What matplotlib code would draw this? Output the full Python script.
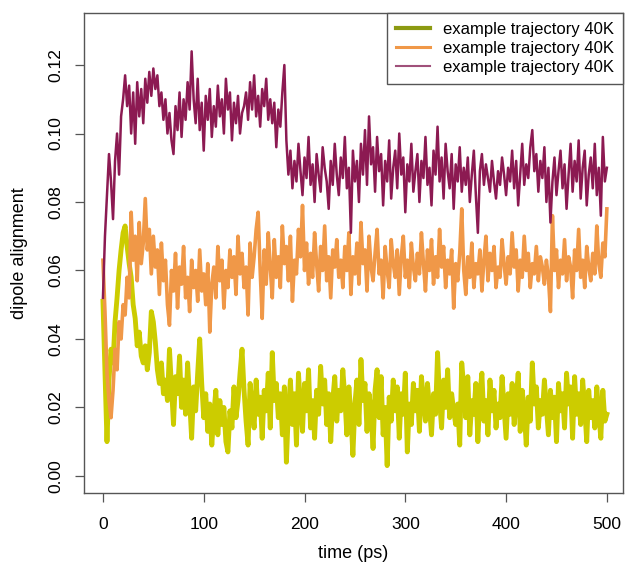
import numpy as np
import matplotlib
matplotlib.use("Agg")
import matplotlib.pyplot as plt
from matplotlib.lines import Line2D

plt.rcParams['font.family'] = ['Liberation Sans', 'DejaVu Sans']

# dipole alignment, in units of 1e-3, one value every 2 ps
yellow = [
    51, 30, 10, 28, 37, 33, 45, 52, 60, 66, 71, 73, 67, 62, 58, 50, 46, 38, 42, 35,
    33, 38, 31, 36, 48, 45, 39, 31, 27, 33, 24, 28, 22, 37, 26, 15, 29, 24, 35, 20,
    28, 18, 33, 22, 11, 26, 19, 30, 40, 27, 17, 24, 13, 21, 9, 18, 25, 12, 22, 15,
    20, 10, 7, 19, 14, 26, 17, 22, 30, 37, 25, 16, 9, 27, 20, 14, 28, 18, 23, 11,
    25, 19, 30, 14, 36, 22, 27, 17, 24, 12, 26, 4, 19, 28, 15, 24, 9, 30, 20, 13,
    27, 19, 31, 14, 22, 11, 25, 18, 32, 21, 28, 15, 24, 10, 22, 29, 16, 25, 19, 31,
    23, 12, 26, 18, 6, 21, 28, 15, 34, 22, 27, 13, 24, 19, 8, 25, 31, 17, 29, 12,
    20, 3, 23, 16, 28, 19, 26, 11, 24, 18, 30, 7, 21, 15, 27, 19, 25, 13, 29, 22,
    16, 27, 20, 12, 24, 18, 36, 22, 14, 28, 20, 31, 17, 24, 19, 15, 21, 9, 33, 26,
    17, 29, 12, 22, 18, 27, 10, 24, 30, 16, 22, 12, 28, 19, 25, 14, 21, 17, 29, 20,
    11, 24, 18, 27, 15, 22, 30, 13, 25, 19, 9, 23, 16, 33, 21, 26, 14, 22, 18, 28,
    20, 12, 25, 17, 23, 10, 27, 19, 24, 14, 30, 21, 26, 11, 29, 18, 24, 15, 28, 20,
    10, 25, 17, 22, 14, 26, 18, 11, 25, 16, 18,
]
orange = [
    63, 48, 30, 22, 17, 25, 37, 31, 45, 40, 50, 47, 58, 52, 77, 63, 70, 57, 74, 62,
    68, 81, 66, 72, 59, 70, 61, 66, 53, 68, 57, 63, 50, 44, 60, 54, 65, 49, 61, 56,
    67, 52, 58, 48, 63, 55, 60, 51, 66, 54, 59, 50, 62, 42, 56, 61, 52, 67, 57, 63,
    49, 60, 55, 66, 58, 64, 53, 70, 59, 65, 55, 61, 47, 68, 58, 64, 72, 77, 60, 46,
    66, 56, 71, 61, 52, 69, 58, 64, 55, 73, 62, 67, 57, 70, 51, 63, 59, 72, 64, 79,
    60, 68, 56, 65, 58, 71, 62, 54, 67, 60, 73, 57, 64, 52, 66, 61, 69, 58, 63, 55,
    67, 60, 71, 53, 64, 59, 68, 56, 74, 62, 66, 54, 70, 61, 57, 65, 72, 59, 63, 52,
    67, 60, 55, 69, 62, 58, 66, 53, 64, 70, 58, 63, 55, 68, 61, 57, 65, 59, 71, 62,
    54, 66, 60, 69, 56, 64, 58, 72, 61, 67, 55, 63, 59, 66, 49, 62, 57, 65, 78, 60,
    53, 64, 58, 68, 55, 62, 59, 66, 54, 63, 70, 57, 65, 60, 67, 55, 61, 58, 69, 62,
    56, 64, 59, 71, 61, 66, 54, 63, 58, 70, 60, 65, 55, 62, 59, 67, 57, 64, 61, 56,
    63, 58, 48, 76, 60, 66, 55, 63, 59, 69, 57, 64, 61, 52, 66, 60, 72, 58, 63, 55,
    67, 61, 57, 65, 59, 73, 62, 58, 68, 64, 78,
]
maroon = [
    52, 70, 82, 94, 86, 75, 92, 100, 88, 105, 110, 117, 108, 114, 100, 112, 97, 115, 105, 113,
    103, 116, 109, 118, 111, 119, 113, 117, 108, 112, 104, 110, 100, 106, 98, 94, 108, 101, 112, 99,
    110, 104, 115, 107, 124, 110, 103, 116, 101, 109, 95, 111, 104, 113, 99, 108, 102, 114, 105, 110,
    100, 116, 107, 112, 98, 109, 103, 111, 100, 106, 108, 112, 104, 115, 107, 117, 105, 111, 102, 113,
    108, 116, 104, 110, 103, 109, 96, 107, 102, 112, 120, 98, 88, 95, 84, 92, 86, 97, 89, 82,
    93, 87, 99, 85, 91, 80, 94, 88, 83, 96, 90, 86, 78, 92, 85, 97, 88, 82, 93, 87,
    99, 84, 90, 71, 95, 86, 92, 80, 97, 88, 101, 85, 105, 91, 96, 83, 99, 89, 94, 79,
    92, 86, 98, 81, 90, 95, 84, 100, 88, 93, 77, 91, 86, 97, 83, 89, 94, 80, 92, 87,
    99, 85, 90, 79, 95, 88, 102, 86, 93, 81, 97, 89, 84, 94, 78, 91, 86, 96, 83, 90,
    85, 93, 80, 88, 95, 82, 71, 89, 94, 85, 91, 87, 83, 92, 86, 81, 89, 85, 93, 88,
    82, 90, 86, 95, 84, 92, 79, 88, 97, 85, 91, 87, 96, 101, 89, 94, 83, 92, 87, 96,
    80, 90, 74, 86, 93, 82, 89, 95, 84, 91, 78, 88, 97, 83, 92, 86, 98, 81, 90, 95,
    79, 88, 93, 84, 97, 82, 90, 76, 99, 86, 90,
]
label = "example trajectory 40K"

fig = plt.figure(figsize=(6.25, 5.63), dpi=100)
ax = fig.add_axes([0.1344, 0.1243, 0.8624, 0.8526])

for vals, col, lw in [(yellow, '#CCCC00', 3.5),
                      (orange, '#F09848', 2.6),
                      (maroon, '#8C1A52', 1.8)]:
    t = np.arange(len(vals)) * 2
    ax.plot(t, np.array(vals) / 1000.0, color=col, lw=lw, solid_joinstyle='round')

ax.set_xlim(-18.8, 516)
ax.set_ylim(-0.005, 0.1352)
ax.set_xticks([0, 100, 200, 300, 400, 500])
ax.set_yticks([0.0, 0.02, 0.04, 0.06, 0.08, 0.10, 0.12])
ax.set_yticklabels(['0.00', '0.02', '0.04', '0.06', '0.08', '0.10', '0.12'],
                   rotation=90, va='center')
ax.tick_params(length=6.5, width=0.9, color='#555555', labelsize=12.5)
ax.tick_params(axis='x', pad=11)
ax.tick_params(axis='y', pad=8)
for s in ax.spines.values():
    s.set_color('#555555')
    s.set_linewidth(1.0)

ax.set_xlabel("time (ps)", fontsize=13, labelpad=9)
ax.set_ylabel("dipole alignment", fontsize=13, labelpad=15)

handles = [Line2D([], [], color='#8C9A12', lw=3.0),
           Line2D([], [], color='#F09848', lw=2.2),
           Line2D([], [], color='#A0507A', lw=1.5)]
leg = ax.legend(handles, [label] * 3, loc='upper right', borderaxespad=0,
                fancybox=False, framealpha=1, edgecolor='#555555',
                fontsize=12, handlelength=2.0, labelspacing=0.22,
                borderpad=0.55, handletextpad=0.8)
leg.get_frame().set_linewidth(1.0)

fig.savefig("out.png", dpi=100)
